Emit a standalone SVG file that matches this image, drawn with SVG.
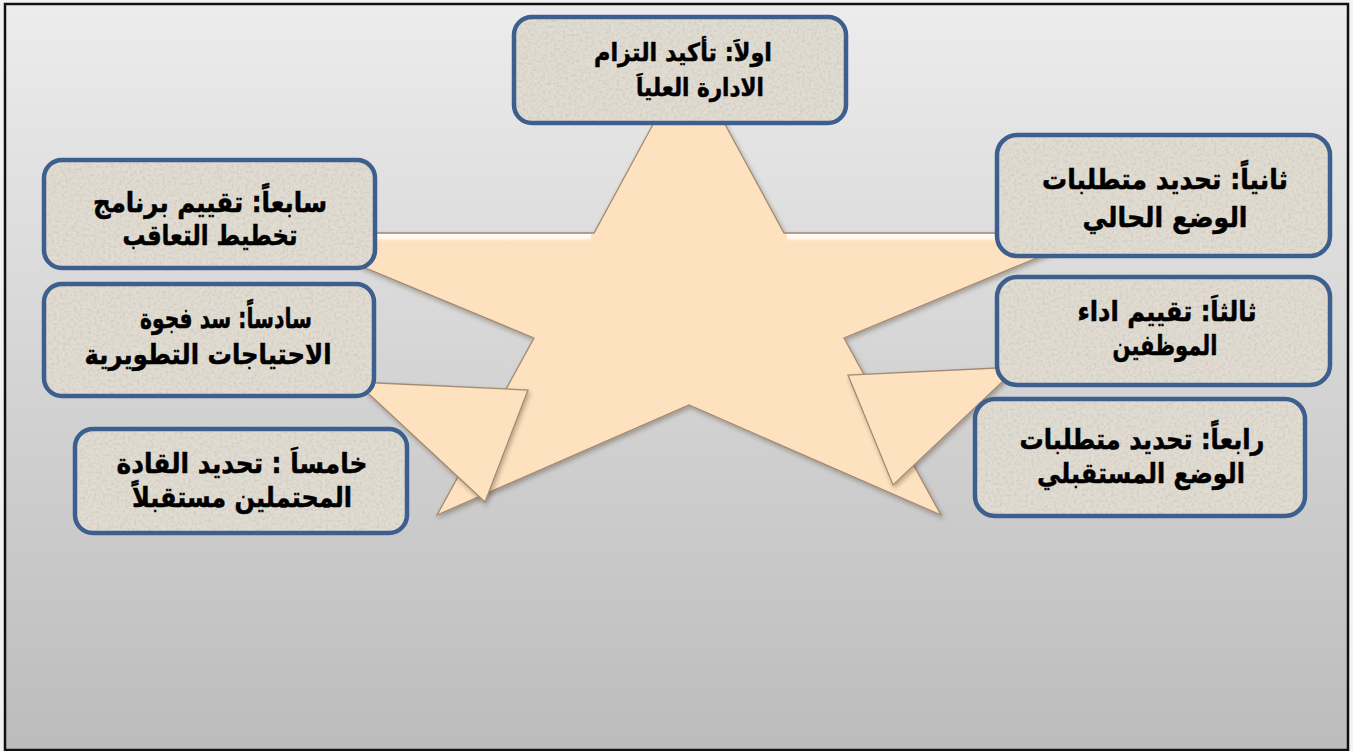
<svg xmlns="http://www.w3.org/2000/svg" width="1353" height="751" viewBox="0 0 1353 751">
  <defs>
    <linearGradient id="bg" x1="0" y1="0" x2="0" y2="1">
      <stop offset="0" stop-color="#ececec"/>
      <stop offset="1" stop-color="#bcbcbc"/>
    </linearGradient>
    <linearGradient id="hl" x1="0" y1="0" x2="0" y2="1">
      <stop offset="0" stop-color="#ffffff" stop-opacity="0.95"/>
      <stop offset="0.5" stop-color="#fffaf0" stop-opacity="0.8"/>
      <stop offset="1" stop-color="#fde2c0" stop-opacity="0"/>
    </linearGradient>
    <filter id="shadow" x="-10%" y="-10%" width="120%" height="130%">
      <feDropShadow dx="1.5" dy="2.5" stdDeviation="2" flood-color="#3a2a1a" flood-opacity="0.35"/>
    </filter>
    <filter id="tex" x="0" y="0" width="100%" height="100%">
      <feTurbulence type="fractalNoise" baseFrequency="0.35" numOctaves="3" seed="7" result="t"/>
      <feColorMatrix in="t" type="matrix" values="0 0 0 0 0.55  0 0 0 0 0.52  0 0 0 0 0.46  0 0 0 1.3 -0.55" result="c"/>
      <feComposite in="c" in2="SourceAlpha" operator="in" result="m"/>
      <feMerge><feMergeNode in="SourceGraphic"/><feMergeNode in="m"/></feMerge>
    </filter>
    <style>
      .box-fill { fill: #e1dcd1; }
      .box-line { fill: none; stroke: #3c5f8e; stroke-width: 4.5; }
      .lbl { font-family: "DejaVu Sans", sans-serif; font-weight: bold; font-size: 28px; fill: #000; stroke: #000; stroke-width: 0.5; text-anchor: middle; direction: rtl; }
      .lbl-top { font-size: 25px; }
      .star { fill: #fee1bf; stroke: #a38b73; stroke-width: 1.3; stroke-linejoin: miter; }
    </style>
  </defs>

  <!-- background & frame -->
  <rect x="0" y="0" width="1353" height="751" fill="#f2f2f2"/>
  <rect x="5" y="4" width="1343" height="746" fill="url(#bg)"/>
  <rect x="5" y="4" width="1343" height="746" fill="none" stroke="#111" stroke-width="2.5"/>

  <!-- star and folds -->
  <g id="star">
    <path class="star" filter="url(#shadow)" d="M689,58 L784,233 L1097,233 L844,338 L941,515 L689,405 L437,515 L534,338 L281,233 L594,233 Z"/>
    <rect x="283" y="234" width="308" height="9" fill="url(#hl)"/>
    <rect x="787" y="234" width="308" height="9" fill="url(#hl)"/>
  </g>
  <g id="fold-left">
    <path class="star" filter="url(#shadow)" d="M356,382 L528,390 L485,502 Z"/>
  </g>
  <g id="fold-right">
    <path class="star" filter="url(#shadow)" d="M1018,367 L848,375 L893,485 Z"/>
  </g>

  <g id="connectors"></g>

  <!-- nodes -->
  <g id="n1">
    <rect class="box-fill" filter="url(#tex)" x="514" y="17" width="332" height="106" rx="18"/>
    <rect class="box-line" x="514" y="17" width="332" height="106" rx="18"/>
    <text class="lbl lbl-top" x="683" y="61" textLength="178" lengthAdjust="spacingAndGlyphs">اولاَ: تأكيد التزام</text>
    <text class="lbl lbl-top" x="700" y="96" textLength="128" lengthAdjust="spacingAndGlyphs">الادارة العلياَ</text>
  </g>
  <g id="n2">
    <rect class="box-fill" filter="url(#tex)" x="997" y="135" width="333" height="121" rx="20"/>
    <rect class="box-line" x="997" y="135" width="333" height="121" rx="20"/>
    <text class="lbl" x="1165" y="189" textLength="246" lengthAdjust="spacingAndGlyphs">ثانياً: تحديد متطلبات</text>
    <text class="lbl" x="1165" y="227" textLength="165" lengthAdjust="spacingAndGlyphs">الوضع الحالي</text>
  </g>
  <g id="n3">
    <rect class="box-fill" filter="url(#tex)" x="997" y="277" width="333" height="108" rx="20"/>
    <rect class="box-line" x="997" y="277" width="333" height="108" rx="20"/>
    <text class="lbl" x="1167" y="321" textLength="179" lengthAdjust="spacingAndGlyphs">ثالثاَ: تقييم اداء</text>
    <text class="lbl" x="1165" y="355" textLength="105" lengthAdjust="spacingAndGlyphs">الموظفين</text>
  </g>
  <g id="n4">
    <rect class="box-fill" filter="url(#tex)" x="975" y="399" width="330" height="117" rx="20"/>
    <rect class="box-line" x="975" y="399" width="330" height="117" rx="20"/>
    <text class="lbl" x="1142" y="449" textLength="245" lengthAdjust="spacingAndGlyphs">رابعاً: تحديد متطلبات</text>
    <text class="lbl" x="1141" y="483" textLength="208" lengthAdjust="spacingAndGlyphs">الوضع المستقبلي</text>
  </g>
  <g id="n5">
    <rect class="box-fill" filter="url(#tex)" x="75" y="429" width="332" height="104" rx="18"/>
    <rect class="box-line" x="75" y="429" width="332" height="104" rx="18"/>
    <text class="lbl" x="242" y="473" textLength="251" lengthAdjust="spacingAndGlyphs">خامساَ : تحديد القادة</text>
    <text class="lbl" x="242" y="507" textLength="220" lengthAdjust="spacingAndGlyphs">المحتملين مستقبلاً</text>
  </g>
  <g id="n6">
    <rect class="box-fill" filter="url(#tex)" x="44" y="284" width="330" height="112" rx="18"/>
    <rect class="box-line" x="44" y="284" width="330" height="112" rx="18"/>
    <text class="lbl" x="226" y="328" textLength="172" lengthAdjust="spacingAndGlyphs">سادساً: سد فجوة</text>
    <text class="lbl" x="208" y="364" textLength="247" lengthAdjust="spacingAndGlyphs">الاحتياجات التطويرية</text>
  </g>
  <g id="n7">
    <rect class="box-fill" filter="url(#tex)" x="44" y="160" width="331" height="108" rx="18"/>
    <rect class="box-line" x="44" y="160" width="331" height="108" rx="18"/>
    <text class="lbl" x="210" y="212" textLength="234" lengthAdjust="spacingAndGlyphs">سابعاً: تقييم برنامج</text>
    <text class="lbl" x="210" y="245" textLength="175" lengthAdjust="spacingAndGlyphs">تخطيط التعاقب</text>
  </g>
</svg>
